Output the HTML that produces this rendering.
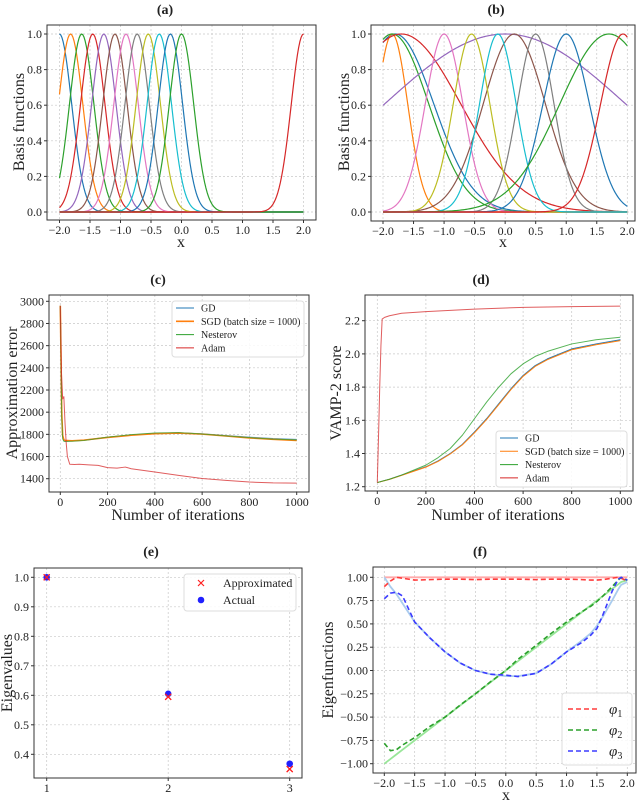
<!DOCTYPE html>
<html><head><meta charset="utf-8"><style>
html,body{margin:0;padding:0;background:#fff;}
svg{display:block;font-family:"Liberation Serif",serif;}
</style></head><body>
<svg id="fig" width="640" height="801" viewBox="0 0 640 801"></svg>
<script>
// ---------- DATA ----------
const aCenters=[-2,-1.818,-1.636,-1.455,-1.273,-1.091,-0.909,-0.727,-0.545,-0.364,-0.182,0,2];
const aWidths=[0.08,0.08,0.08,0.08,0.08,0.08,0.08,0.08,0.08,0.08,0.08,0.08,0.08];
const aColors=["#1f77b4","#ff7f0e","#2ca02c","#d62728","#9467bd","#8c564b","#e377c2","#7f7f7f","#bcbd22","#17becf","#1f77b4","#2ca02c","#d62728"];
const bCenters=[-1.8,-1.85,-1.85,-1.7,0,0.15,-1.0,0.5,-0.55,-0.12,1.0,1.7,1.93];
const bWidths=[0.8,0.13,0.72,1.9,7.8,0.52,0.19,0.18,0.18,0.18,0.29,1.3,0.27];
const bColors=["#1f77b4","#ff7f0e","#2ca02c","#d62728","#9467bd","#8c564b","#e377c2","#7f7f7f","#bcbd22","#17becf","#1f77b4","#2ca02c","#d62728"];
const cIterGD=[0,3,6,10,15,20,50,100,200,300,400,500,600,700,800,900,1000];
const cGD=[2960,2500,2000,1780,1745,1738,1740,1748,1775,1795,1810,1815,1805,1790,1775,1762,1755];
const cSGD=[2960,2500,2000,1790,1750,1745,1742,1748,1772,1792,1806,1812,1802,1785,1768,1755,1745];
const cNest=[2960,2450,1950,1760,1738,1735,1738,1745,1775,1797,1812,1816,1803,1786,1770,1757,1750];
const cIterAdam=[0,5,10,15,20,25,30,40,60,80,120,160,200,240,275,300,400,500,600,700,800,900,1000];
const cAdam=[2960,2350,2120,2140,1900,1720,1600,1530,1528,1530,1525,1520,1500,1495,1505,1490,1460,1430,1402,1385,1370,1362,1360];
const dIter=[0,50,100,150,200,250,300,350,400,450,500,550,600,650,700,800,900,1000];
const dGD=[1.225,1.245,1.27,1.295,1.32,1.355,1.40,1.455,1.53,1.61,1.70,1.79,1.87,1.93,1.97,2.03,2.06,2.085];
const dSGD=[1.225,1.244,1.268,1.293,1.318,1.352,1.397,1.452,1.525,1.605,1.695,1.785,1.865,1.925,1.965,2.025,2.055,2.08];
const dNest=[1.225,1.245,1.27,1.30,1.33,1.375,1.43,1.51,1.61,1.71,1.80,1.88,1.94,1.985,2.015,2.06,2.085,2.10];
const dIterAdam=[0,5,10,15,20,30,50,100,200,400,600,800,1000];
const dAdam=[1.225,1.5,1.8,2.05,2.21,2.22,2.23,2.245,2.255,2.27,2.28,2.285,2.288];
const eIdx=[1,2,3];
const eApprox=[1.0,0.595,0.35];
const eActual=[1.0,0.605,0.368];
const fXs=[-2,-1.9,-1.8,-1.7,-1.5,-1.25,-1,-0.75,-0.5,-0.25,0,0.2,0.5,0.75,1,1.25,1.4,1.5,1.6,1.75,1.85,1.9,2];
const fPhi1=[0.9,0.96,1.0,0.99,0.97,0.975,0.98,0.98,0.975,0.98,0.98,0.98,0.975,0.98,0.98,0.975,0.97,0.97,0.975,0.99,1.0,0.99,0.96];
const fPhi2=[-0.78,-0.86,-0.85,-0.8,-0.72,-0.6,-0.5,-0.37,-0.25,-0.12,0.0,0.12,0.27,0.4,0.52,0.63,0.69,0.74,0.8,0.9,0.97,1.0,0.97];
const fPhi3=[0.77,0.83,0.84,0.8,0.52,0.35,0.2,0.08,0.0,-0.04,-0.05,-0.065,-0.03,0.07,0.2,0.3,0.38,0.45,0.6,0.85,0.98,1.0,0.97];
const fTrue1=[1,1,1,1,1,1,1,1,1,1,1,1,1,1,1,1,1,1,1,1,1,1,1];
const fTrue2=[-1,-0.95,-0.9,-0.85,-0.75,-0.625,-0.5,-0.375,-0.25,-0.125,0,0.1,0.25,0.375,0.5,0.625,0.7,0.75,0.8,0.875,0.925,0.95,0.97];
const fTrue3=[1.0,0.9,0.82,0.72,0.52,0.35,0.2,0.08,0.0,-0.04,-0.06,-0.06,-0.03,0.07,0.2,0.32,0.4,0.48,0.58,0.75,0.87,0.92,0.95];

// ---------- HELPERS ----------
const NS="http://www.w3.org/2000/svg";
const svg=document.getElementById('fig');
function el(tag,parent){const e=document.createElementNS(NS,tag);parent.appendChild(e);return e;}
function lin(d0,p0,d1,p1){return v=>p0+(v-d0)*(p1-p0)/(d1-d0);}
function fmt(v,dec){const s=Math.abs(v).toFixed(dec);return (v<-1e-9?"\u2212":"")+s;}
function txt(g,x,y,s,size,anchor,extra){const t=el('text',g);t.setAttribute('x',x);t.setAttribute('y',y);t.setAttribute('font-size',size);t.setAttribute('text-anchor',anchor||'middle');t.setAttribute('fill','#222');if(extra)t.setAttribute('font-weight',extra);t.textContent=s;return t;}

function axes(p){
  const g=el('g',svg);
  
  
  const [x0,y0,x1,y1]=p.frame;
  const grid=el('g',g);
  
  
  p.xt.forEach(v=>{const X=p.sx(v);const l=el('line',grid);l.setAttribute('x1',X);l.setAttribute('x2',X);l.setAttribute('y1',y0);l.setAttribute('y2',y1);l.setAttribute('stroke','#c8c8c8');l.setAttribute('stroke-width','0.7');l.setAttribute('stroke-dasharray','2,2');});
  p.yt.forEach(v=>{const Y=p.sy(v);const l=el('line',grid);l.setAttribute('x1',x0);l.setAttribute('x2',x1);l.setAttribute('y1',Y);l.setAttribute('y2',Y);l.setAttribute('stroke','#c8c8c8');l.setAttribute('stroke-width','0.7');l.setAttribute('stroke-dasharray','2,2');});
  const xt=el('g',g);
  
  
  p.xt.forEach(v=>{const X=p.sx(v);const l=el('line',xt);l.setAttribute('x1',X);l.setAttribute('x2',X);l.setAttribute('y1',y1);l.setAttribute('y2',y1+3);l.setAttribute('stroke','#333');txt(xt,X,y1+14,fmt(v,p.xd),12);});
  const yt=el('g',g);
  
  
  p.yt.forEach(v=>{const Y=p.sy(v);const l=el('line',yt);l.setAttribute('x1',x0-3);l.setAttribute('x2',x0);l.setAttribute('y1',Y);l.setAttribute('y2',Y);l.setAttribute('stroke','#333');txt(yt,x0-5,Y+4,fmt(v,p.yd),12,'end');});
  const t=txt(g,p.title[0],p.title[1],p.titleText,14,'middle','bold');
  
  
  if(p.xl){const xl=txt(g,p.xl[0],p.xl[1],p.xl[2],16);}
  const yl=txt(g,0,0,p.yl[2],16);
  yl.setAttribute('transform','translate('+p.yl[0]+','+p.yl[1]+') rotate(-90)');
  
  
  const plot=el('g',g);
  
  
  const cp=el('clipPath',g);cp.setAttribute('id','clip-'+p.name);
  const cr=el('rect',cp);cr.setAttribute('x',x0);cr.setAttribute('y',y0);cr.setAttribute('width',x1-x0);cr.setAttribute('height',y1-y0);
  plot.setAttribute('clip-path','url(#clip-'+p.name+')');
  p.plot=plot;p.g=g;
  return p;
}
function frame(p){
  const [x0,y0,x1,y1]=p.frame;
  const r=el('rect',p.g);r.setAttribute('x',x0);r.setAttribute('y',y0);r.setAttribute('width',x1-x0);r.setAttribute('height',y1-y0);r.setAttribute('fill','none');r.setAttribute('stroke','#333');r.setAttribute('stroke-width','1');
  
  
}
function line(p,xs,ys,color,w,name,dash,op){
  const pl=el('polyline',p.plot);
  pl.setAttribute('points',xs.map((x,i)=>p.sx(x).toFixed(2)+','+p.sy(ys[i]).toFixed(2)).join(' '));
  pl.setAttribute('fill','none');pl.setAttribute('stroke',color);pl.setAttribute('stroke-width',w);
  pl.setAttribute('stroke-linejoin','round');
  if(dash)pl.setAttribute('stroke-dasharray',dash);
  if(op)pl.setAttribute('stroke-opacity',op);
  
  
  return pl;
}
function legendBox(g,x,y,w,h,name){
  const r=el('rect',g);r.setAttribute('x',x);r.setAttribute('y',y);r.setAttribute('width',w);r.setAttribute('height',h);r.setAttribute('rx',3);r.setAttribute('fill','#fff');r.setAttribute('fill-opacity','0.85');r.setAttribute('stroke','#ddd');
  
  
}
function gaussLine(p,c,w,color,name){
  const xs=[],ys=[];for(let i=0;i<=200;i++){const x=-2+4*i/200;xs.push(x);ys.push(Math.exp(-(x-c)*(x-c)/w));}
  line(p,xs,ys,color,1.2,name);
}

// ---------- PANEL A ----------
const A=axes({name:'panel-a',frame:[47,25,316,220],sx:lin(-2,59.5,2,303.5),sy:lin(0,212,1,34),xt:[-2,-1.5,-1,-0.5,0,0.5,1,1.5,2],yt:[0,0.2,0.4,0.6,0.8,1.0],xd:1,yd:1,title:[165,14],titleText:'(a)',xl:[181,247,'x'],yl:[24,122,'Basis functions']});
line(A,[-2,2],[0,0],'#d62728',1.6,'a-zero-baseline');
aCenters.forEach((c,i)=>gaussLine(A,c,aWidths[i],aColors[i],'a-basis-'+i));
frame(A);

// ---------- PANEL B ----------
const B=axes({name:'panel-b',frame:[371,25,635,221],sx:lin(-2,383,2,627.3),sy:lin(0,212,1,34),xt:[-2,-1.5,-1,-0.5,0,0.5,1,1.5,2],yt:[0,0.2,0.4,0.6,0.8,1.0],xd:1,yd:1,title:[496,14],titleText:'(b)',xl:[503,247,'x'],yl:[349,122,'Basis functions']});
line(B,[-2,2],[0,0],'#d62728',1.6,'b-zero-baseline');
bCenters.forEach((c,i)=>gaussLine(B,c,bWidths[i],bColors[i],'b-basis-'+i));
frame(B);

// ---------- PANEL C ----------
const C=axes({name:'panel-c',frame:[49,295,309,492],sx:lin(0,60.3,1000,296.7),sy:lin(1400,478.7,3000,301.3),xt:[0,200,400,600,800,1000],yt:[1400,1600,1800,2000,2200,2400,2600,2800,3000],xd:0,yd:0,title:[158,284],titleText:'(c)',xl:[178,520,'Number of iterations'],yl:[17,393,'Approximation error']});
line(C,cIterGD,cGD,'#1f77b4',1,'c-gd-line',null,0.7);
line(C,cIterGD,cSGD,'#ff7f0e',1.6,'c-sgd-line');
line(C,cIterGD,cNest,'#2ca02c',1,'c-nesterov-line',null,0.7);
line(C,cIterAdam,cAdam,'#d62728',1,'c-adam-line',null,0.75);
frame(C);
{
 const lg=el('g',C.g);
 
 
 legendBox(lg,172,301,132,56,'c-legend-box');
 [['GD','#1f77b4',1],['SGD (batch size = 1000)','#ff7f0e',1.6],['Nesterov','#2ca02c',1],['Adam','#d62728',1]].forEach((e,i)=>{
  const y=308+i*13.3;
  const l=el('line',lg);l.setAttribute('x1',176);l.setAttribute('x2',194);l.setAttribute('y1',y);l.setAttribute('y2',y);l.setAttribute('stroke',e[1]);l.setAttribute('stroke-width',e[2]);
  
  
  txt(lg,201,y+3.5,e[0],10,'start');
 });
}

// ---------- PANEL D ----------
const D=axes({name:'panel-d',frame:[365,295,633,491],sx:lin(0,377.3,1000,620.3),sy:lin(1.2,486.7,2.2,320.7),xt:[0,200,400,600,800,1000],yt:[1.2,1.4,1.6,1.8,2.0,2.2],xd:0,yd:1,title:[481,284],titleText:'(d)',xl:[498,520,'Number of iterations'],yl:[341,393,'VAMP-2 score']});
line(D,dIter,dGD,'#1f77b4',1,'d-gd-line');
line(D,dIter,dSGD,'#ff7f0e',1,'d-sgd-line');
line(D,dIter,dNest,'#2ca02c',1,'d-nesterov-line',null,0.8);
line(D,dIterAdam,dAdam,'#d62728',1,'d-adam-line',null,0.75);
frame(D);
{
 const lg=el('g',D.g);
 
 
 legendBox(lg,496,431,131,56,'d-legend-box');
 [['GD','#1f77b4'],['SGD (batch size = 1000)','#ff7f0e'],['Nesterov','#2ca02c'],['Adam','#d62728']].forEach((e,i)=>{
  const y=438+i*13.3;
  const l=el('line',lg);l.setAttribute('x1',500);l.setAttribute('x2',518);l.setAttribute('y1',y);l.setAttribute('y2',y);l.setAttribute('stroke',e[1]);l.setAttribute('stroke-width',1);
  
  
  txt(lg,525,y+3.5,e[0],10,'start');
 });
}

// ---------- PANEL E ----------
const E=axes({name:'panel-e',frame:[34,568,302,778],sx:lin(1,46.7,3,289.7),sy:lin(0.4,754.3,1.0,577.3),xt:[1,2,3],yt:[0.4,0.5,0.6,0.7,0.8,0.9,1.0],xd:0,yd:1,title:[151,556],titleText:'(e)',xl:null,yl:[12,673,'Eigenvalues']});
function xMark(g,X,Y,name){const p=el('path',g);p.setAttribute('d','M'+(X-3)+' '+(Y-3)+'L'+(X+3)+' '+(Y+3)+'M'+(X-3)+' '+(Y+3)+'L'+(X+3)+' '+(Y-3));p.setAttribute('stroke','#ff2020');p.setAttribute('stroke-width','1.2');}
function dot(g,X,Y,name){const c=el('circle',g);c.setAttribute('cx',X);c.setAttribute('cy',Y);c.setAttribute('r',3.3);c.setAttribute('fill','#2020ff');}
eIdx.forEach((k,i)=>{xMark(E.plot,E.sx(k),E.sy(eApprox[i]),'e-approx-point-'+k);});
eIdx.forEach((k,i)=>{dot(E.plot,E.sx(k),E.sy(eActual[i]),'e-actual-point-'+k);});
eIdx.forEach((k,i)=>{xMark(E.plot,E.sx(k),E.sy(eApprox[i]),'e-approx-point-top-'+k);});
frame(E);
{
 const lg=el('g',E.g);
 
 
 legendBox(lg,184,574,112,37,'e-legend-box');
 xMark(lg,201,583,'e-legend-approx-marker');
 txt(lg,223,587,'Approximated',12,'start');
 dot(lg,201,600,'e-legend-actual-marker');
 txt(lg,223,604,'Actual',12,'start');
}

// ---------- PANEL F ----------
const F=axes({name:'panel-f',frame:[373,567,636,773],sx:lin(-2,384.3,2,627.3),sy:lin(-1,763.7,1,577.3),xt:[-2,-1.5,-1,-0.5,0,0.5,1,1.5,2],yt:[-1,-0.75,-0.5,-0.25,0,0.25,0.5,0.75,1],xd:1,yd:2,title:[480,556],titleText:'(f)',xl:[506,800,'x'],yl:[333,670,'Eigenfunctions']});
line(F,fXs,fTrue1,'#ffaaaa',1.8,'f-true-phi1');
line(F,fXs,fTrue2,'#99e699',1.8,'f-true-phi2');
line(F,fXs,fTrue3,'#aaccee',1.8,'f-true-phi3');
line(F,fXs,fPhi1,'#ff3b3b',1.6,'f-approx-phi1','5,3');
line(F,fXs,fPhi2,'#2ca02c',1.6,'f-approx-phi2','5,3');
line(F,fXs,fPhi3,'#3b3bff',1.6,'f-approx-phi3','5,3');
frame(F);
{
 const lg=el('g',F.g);
 
 
 legendBox(lg,562,693,70,72,'f-legend-box');
 [['1','#ff3b3b'],['2','#2ca02c'],['3','#3b3bff']].forEach((e,i)=>{
  const y=709+i*21;
  const l=el('line',lg);l.setAttribute('x1',568);l.setAttribute('x2',598);l.setAttribute('y1',y);l.setAttribute('y2',y);l.setAttribute('stroke',e[1]);l.setAttribute('stroke-width',1.6);l.setAttribute('stroke-dasharray','5,3');
  
  
  const t=txt(lg,609,y+5,'\u03c6',15,'start');t.setAttribute('font-style','italic');
  const s=el('tspan',t);s.setAttribute('font-size',10);s.setAttribute('dy',3);s.setAttribute('font-style','normal');s.textContent=e[0];
 });
}
</script>
</body></html>
